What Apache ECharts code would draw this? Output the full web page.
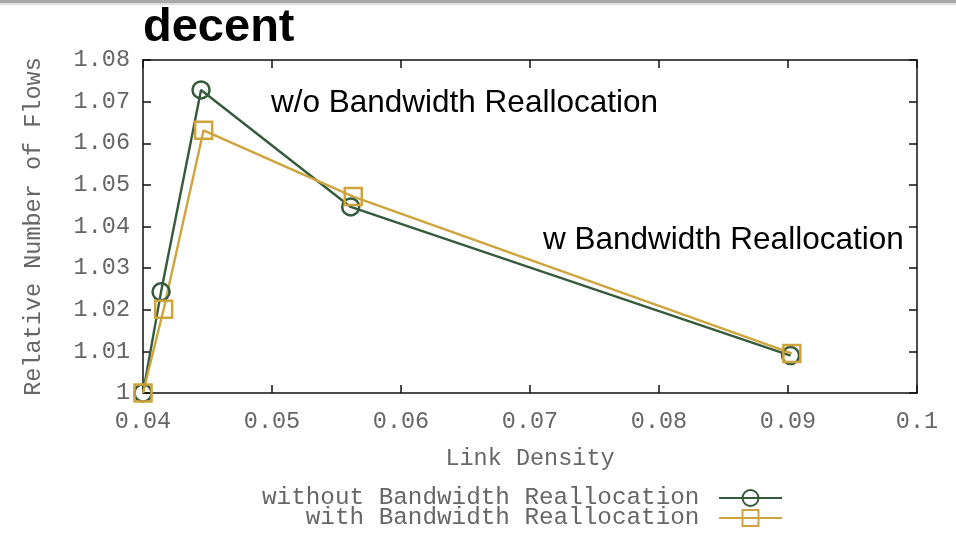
<!DOCTYPE html>
<html>
<head>
<meta charset="utf-8">
<script src="https://cdn.jsdelivr.net/npm/echarts@6/dist/echarts.min.js"></script>
<style>html,body{margin:0;padding:0;background:#fff}#c{width:956px;height:542px}</style>
</head>
<body>
<div id="c"></div>
<script>
// Data
const seriesNames = ['without Bandwidth Reallocation', 'with Bandwidth Reallocation'];
const withoutX = [0.0400, 0.0414, 0.0445, 0.0561, 0.0902];
const withoutY = [1.0000, 1.0243, 1.0728, 1.0447, 1.0090];
const withX = [0.0400, 0.0416, 0.0447, 0.0563, 0.0903];
const withY = [1.0000, 1.0201, 1.0631, 1.0472, 1.0095];
const xTicks = [0.04, 0.05, 0.06, 0.07, 0.08, 0.09, 0.1];
const yTicks = [1, 1.01, 1.02, 1.03, 1.04, 1.05, 1.06, 1.07, 1.08];
const titleText = 'decent';
const annotations = ['w/o Bandwidth Reallocation', 'w Bandwidth Reallocation'];

const zip = (xs, ys) => xs.map((x, i) => [x, ys[i]]);
const fmt = v => String(parseFloat(Number(v).toFixed(2)));
const mono = '"Liberation Mono", "DejaVu Sans Mono", monospace';
const green = '#355a3c';
const gold = '#cfa43c';
const textGray = '#666';

const chart = echarts.init(document.getElementById('c'));
const baseAxis = {
  axisLine: { show: true, lineStyle: { color: '#111', width: 1.5 } },
  axisTick: { show: true, inside: true, length: 8, lineStyle: { color: '#111', width: 1.5 } },
  splitLine: { show: false }
};
chart.setOption({
  animation: false,
  backgroundColor: '#fff',
  title: {
    text: titleText, left: 143, top: 5, padding: 0,
    textStyle: { fontFamily: '"Liberation Sans", Arial, sans-serif', fontWeight: 'bold', fontSize: 47, color: '#000' }
  },
  graphic: [
    { type: 'rect', left: 0, top: 0, shape: { width: 956, height: 3 }, style: { fill: '#a8a8a8' }, silent: true },
    { type: 'rect', left: 0, top: 3, shape: { width: 956, height: 2 }, style: { fill: '#dedede' }, silent: true },
    { type: 'text', left: 271, top: 87, style: { text: annotations[0], font: '31.5px "Liberation Sans", Arial, sans-serif', fill: '#000' } },
    { type: 'text', left: 543, top: 224, style: { text: annotations[1], font: '31.5px "Liberation Sans", Arial, sans-serif', fill: '#000' } }
  ],
  legend: {
    orient: 'vertical', left: 262, top: 486, padding: 0,
    align: 'right', itemWidth: 63, itemHeight: 20, itemGap: -4,
    formatter: n => n.padStart(30, ' ') + ' ',
    textStyle: { fontFamily: mono, fontSize: 24.3, color: textGray },
    data: seriesNames
  },
  grid: { left: 143, right: 39, top: 60, bottom: 149, containLabel: false },
  xAxis: [
    Object.assign({}, baseAxis, {
      type: 'value', min: xTicks[0], max: xTicks[xTicks.length - 1], interval: 0.01,
      name: 'Link Density', nameLocation: 'middle', nameGap: 54,
      nameTextStyle: { fontFamily: mono, fontSize: 23.5, color: textGray },
      axisLabel: { margin: 17, formatter: fmt, fontFamily: mono, fontSize: 23.5, color: textGray }
    }),
    Object.assign({}, baseAxis, {
      type: 'value', position: 'top', min: xTicks[0], max: xTicks[xTicks.length - 1], interval: 0.01,
      axisLabel: { show: false }
    })
  ],
  yAxis: [
    Object.assign({}, baseAxis, {
      type: 'value', min: yTicks[0], max: yTicks[yTicks.length - 1], interval: 0.01,
      name: 'Relative Number of Flows', nameLocation: 'middle', nameGap: 97, nameRotate: 90,
      nameTextStyle: { fontFamily: mono, fontSize: 23.5, color: textGray },
      axisLabel: { margin: 13, formatter: fmt, fontFamily: mono, fontSize: 23.5, color: textGray }
    }),
    Object.assign({}, baseAxis, {
      type: 'value', position: 'right', min: yTicks[0], max: yTicks[yTicks.length - 1], interval: 0.01,
      axisLabel: { show: false }
    })
  ],
  series: [
    {
      name: seriesNames[0], type: 'line', data: zip(withoutX, withoutY),
      symbol: 'circle', symbolSize: 17, clip: false,
      lineStyle: { color: green, width: 2.4 },
      itemStyle: { color: 'rgba(255,255,255,0)', borderColor: green, borderWidth: 2.5 }
    },
    {
      name: seriesNames[1], type: 'line', data: zip(withX, withY),
      symbol: 'rect', symbolSize: 17, clip: false,
      lineStyle: { color: gold, width: 2.4 },
      itemStyle: { color: 'rgba(255,255,255,0)', borderColor: gold, borderWidth: 2.5 }
    }
  ]
});
</script>
</body>
</html>
